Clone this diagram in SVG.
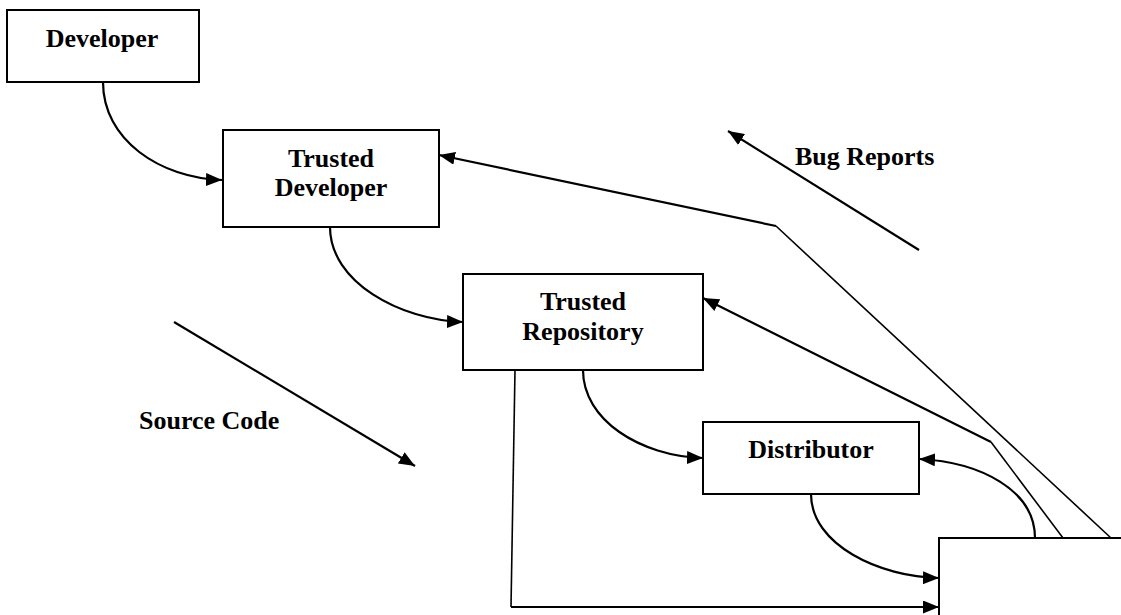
<svg xmlns="http://www.w3.org/2000/svg" width="1121" height="615" viewBox="0 0 1121 615">
<defs>
<style>
.box{fill:#fff;stroke:#000;stroke-width:2}
.lbl{font-family:"Liberation Serif","Times New Roman",serif;font-weight:bold;font-size:26px;fill:#000}
.c{fill:none;stroke:#000;stroke-width:2.2}
.t{fill:none;stroke:#000;stroke-width:1.6}
</style>
<marker id="ah" viewBox="0 0 16 13" refX="16" refY="6.5" markerWidth="16" markerHeight="13" markerUnits="userSpaceOnUse" orient="auto">
<path d="M0,0 L16,6.5 L0,13 Z" fill="#000"/>
</marker>
</defs>
<rect width="1121" height="615" fill="#fff"/>
<g id="connectors">
<path class="c" d="M103,82 C103,140 160,178 222,180" marker-end="url(#ah)"/>
<path class="c" d="M330,227 C330,282 400,320 463,322" marker-end="url(#ah)"/>
<path class="c" d="M583,370 C583,420 640,456 703,458" marker-end="url(#ah)"/>
<path class="c" d="M811,494 C811,545 880,577 939,578" marker-end="url(#ah)"/>
<path class="c" d="M1035,538 C1035,490 980,462 919,459" marker-end="url(#ah)"/>
<path class="t" d="M1063,538 L991,442"/>
<path class="c" d="M991,442 L703,298" marker-end="url(#ah)"/>
<path class="t" d="M1111,538 L776,226"/>
<path class="c" d="M776,226 L439,155" marker-end="url(#ah)"/>
<path class="t" d="M515,370 L511,607"/>
<path class="c" d="M511,607 L939,607" marker-end="url(#ah)"/>
<path class="c" d="M919,250 L728,131" marker-end="url(#ah)"/>
<path class="c" d="M174,322 L415,466" marker-end="url(#ah)"/>
</g>
<g id="developer">
<rect class="box" x="7" y="10" width="192" height="72"/>
<text class="lbl" x="102" y="47" text-anchor="middle">Developer</text>
</g>
<g id="trusted-developer">
<rect class="box" x="223" y="130" width="216" height="97"/>
<text class="lbl" x="331" y="167" text-anchor="middle">Trusted</text>
<text class="lbl" x="331" y="196" text-anchor="middle">Developer</text>
</g>
<g id="trusted-repository">
<rect class="box" x="463" y="274" width="240" height="96"/>
<text class="lbl" x="583" y="310" text-anchor="middle">Trusted</text>
<text class="lbl" x="583" y="340" text-anchor="middle">Repository</text>
</g>
<g id="distributor">
<rect class="box" x="703" y="422" width="216" height="72"/>
<text class="lbl" x="811" y="458" text-anchor="middle">Distributor</text>
</g>
<g id="user">
<path d="M939,615 V538 H1121" fill="#fff" stroke="#000" stroke-width="2"/>
</g>
<g id="labels">
<text class="lbl" x="795" y="165">Bug Reports</text>
<text class="lbl" x="139" y="429">Source Code</text>
</g>
</svg>
